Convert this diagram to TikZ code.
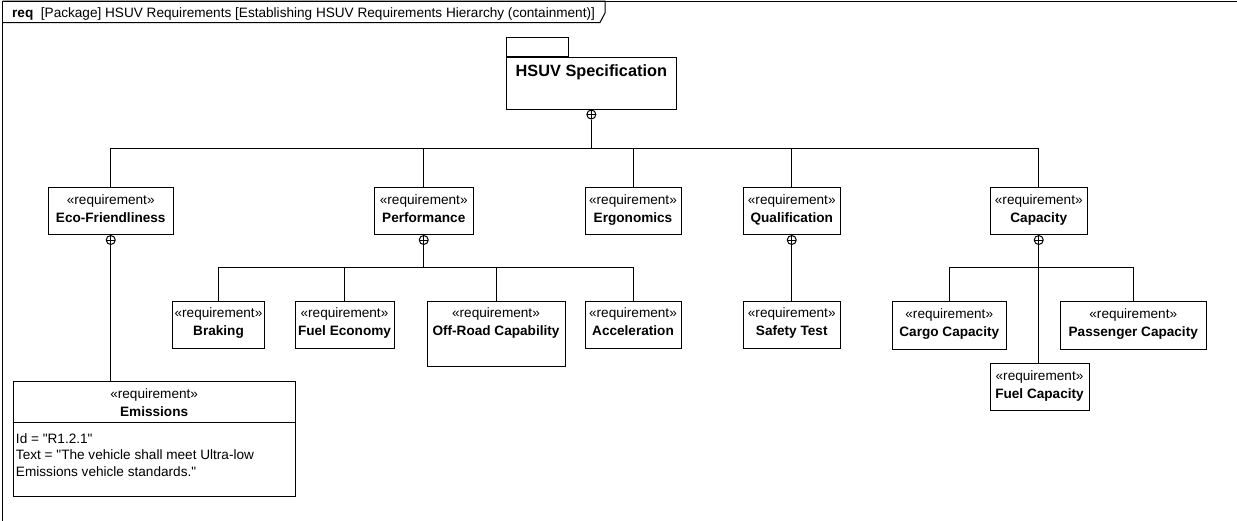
\documentclass[tikz,border=0pt]{standalone}
\usepackage{fontspec}
\setmainfont{Liberation Sans}[Ligatures=TeXOff]

% requirement block: name, x1, y1, x2, y2, title
\newcommand\ReqBox[6]{%
  \node[reqbox, minimum width={(#4)-(#2)}, minimum height={(#5)-(#3)}]
    (#1) at ({((#2)+(#4))/2},{((#3)+(#5))/2}) {};
  \node[reqtext] (#1-t) at (#1.north) {«requirement»\\\textbf{#6}};
}

\begin{document}
\begin{tikzpicture}[x=1pt,y=-1pt,
  line width=1pt,
  every node/.style={font=\fontsize{13.6}{18}\selectfont},
  reqbox/.style={draw, fill=white, inner sep=0pt},
  reqtext/.style={anchor=north, align=center, inner sep=0pt, yshift=-6.9pt},
  oplus/.style={draw, circle, minimum size=9pt, inner sep=0pt, fill=white, anchor=north,
    path picture={\draw[line width=0.8pt]
      (path picture bounding box.west) -- (path picture bounding box.east)
      (path picture bounding box.north) -- (path picture bounding box.south);}},
  conn/.style={draw, line width=1pt}
]
\useasboundingbox (0,0) rectangle (1237,520);
\clip (0,0) rectangle (1237,520);

% diagram frame and its heading tab
\draw (2.5,1) rectangle (1250,540);
\draw (2.5,1) -- (605,1) -- (605,13) -- (600,22.5) -- (2.5,22.5);
\node[anchor=base west, inner sep=0pt] (title) at (11.7,17.3)
  {\textbf{req}\ \ [Package] HSUV Requirements [Establishing HSUV Requirements Hierarchy (containment)]};

% root package
\node[reqbox, minimum width=170.7, minimum height=51.7] (spec) at (591.35,83.15) {};
\node[draw, fill=white, inner sep=0pt, minimum width=62, minimum height=19, anchor=south west]
  (specTab) at (spec.north west) {};
\node[anchor=north, inner sep=0pt, yshift=-7.7pt, font=\bfseries\fontsize{16.3}{19}\selectfont]
  (specT) at (spec.north) {HSUV Specification};

% first level
\ReqBox{eco}{48}{187.5}{173.5}{234.5}{Eco-Friendliness}
\ReqBox{perf}{374}{187.5}{473.5}{234.5}{Performance}
\ReqBox{ergo}{585}{187.5}{681}{234.5}{Ergonomics}
\ReqBox{qual}{743.5}{187.5}{840}{234.5}{Qualification}
\ReqBox{cap}{990}{187.5}{1087.5}{234.5}{Capacity}

% second level
\ReqBox{braking}{172.5}{301}{264.5}{348.5}{Braking}
\ReqBox{fueleco}{295}{301}{394}{348.5}{Fuel Economy}
\ReqBox{offroad}{427}{301}{565}{366}{Off-Road Capability}
\ReqBox{accel}{585}{301}{681}{348.5}{Acceleration}
\ReqBox{safety}{743.5}{301}{840}{348.5}{Safety Test}
\ReqBox{cargo}{892.5}{301.5}{1006}{349}{Cargo Capacity}
\ReqBox{passenger}{1060.5}{301.5}{1206}{349}{Passenger Capacity}
\ReqBox{fuelcap}{990}{363.5}{1089}{410}{Fuel Capacity}

% Emissions with its attribute compartment
\ReqBox{emis}{13.3}{381.7}{295}{496}{Emissions}
\coordinate (emisdiv) at (0,422.7);
\draw (emis.west |- emisdiv) -- (emis.east |- emisdiv);
\node[anchor=north west, inner sep=0pt, align=left, font=\fontsize{13.6}{16.5}\selectfont]
  (emisA) at (15.5,432.8)
  {Id = "R1.2.1"\\Text = "The vehicle shall meet Ultra-low\\Emissions vehicle standards."};

% containment markers
\node[oplus] (specO) at (spec.south) {};
\node[oplus] (ecoO) at (eco.south) {};
\node[oplus] (perfO) at (perf.south) {};
\node[oplus] (qualO) at (qual.south) {};
\node[oplus] (capO) at (cap.south) {};

% bus levels
\coordinate (busA) at (0,148.3);
\coordinate (busB) at (0,267);
\coordinate (busC) at (0,267.3);

% containment connectors
\foreach \c in {eco,perf,ergo,qual,cap}
  \draw[conn] (specO.south) |- (\c.north |- busA) -- (\c.north);
\foreach \c in {braking,fueleco,offroad,accel}
  \draw[conn] (perfO.south) |- (\c.north |- busB) -- (\c.north);
\foreach \c in {cargo,passenger}
  \draw[conn] (capO.south) |- (\c.north |- busC) -- (\c.north);
\draw[conn] (capO.south) -- (capO.south |- fuelcap.north);
\draw[conn] (qualO.south) -- (qualO.south |- safety.north);
\draw[conn] (ecoO.south) -- (ecoO.south |- emis.north);
\end{tikzpicture}
\end{document}
